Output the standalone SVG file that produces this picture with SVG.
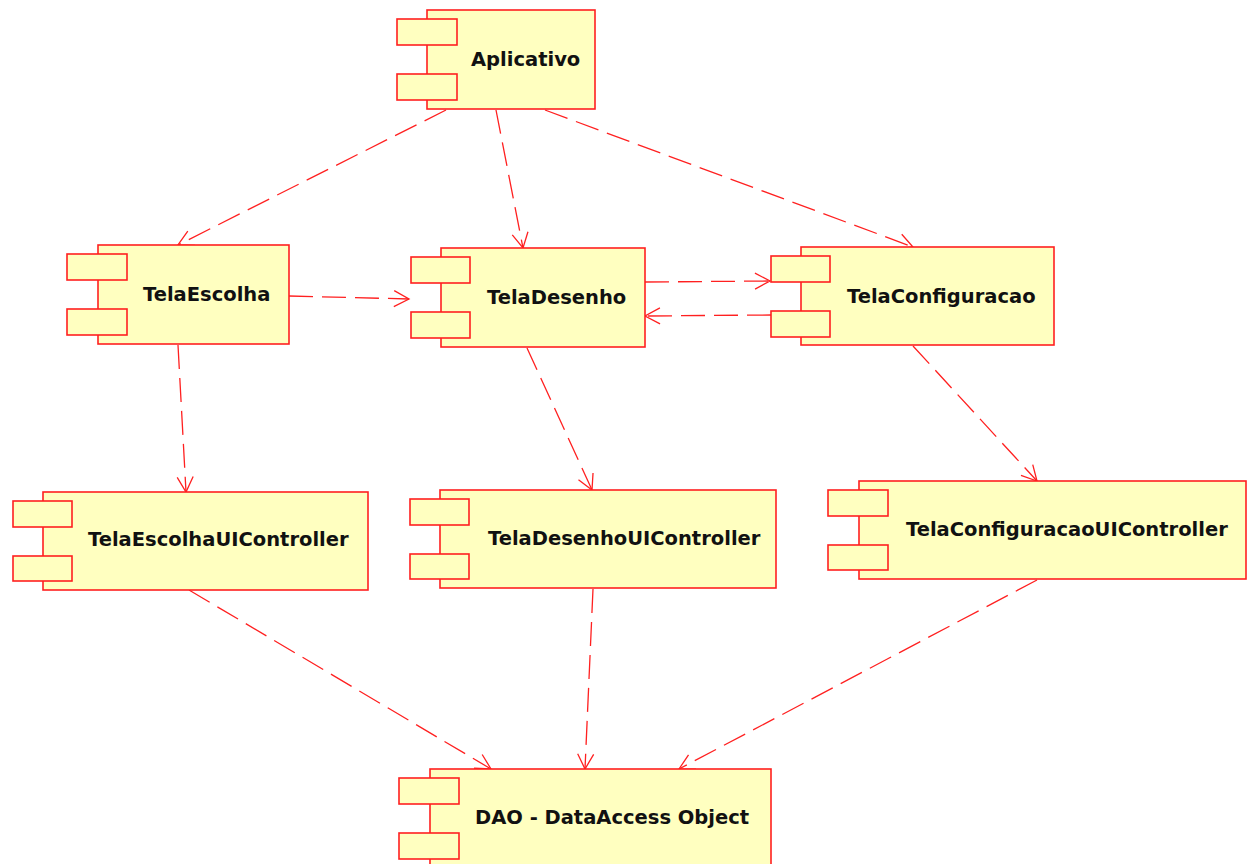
<svg xmlns="http://www.w3.org/2000/svg" width="1249" height="864" viewBox="0 0 1249 864">
<defs>
<style>
.b{fill:#ffffc0;stroke:#ff2020;stroke-width:1.6}
.t{font-family:"DejaVu Sans",sans-serif;font-weight:bold;font-size:19.5px;fill:#111}
.e{fill:none;stroke:#ff2020;stroke-width:1.3;stroke-dasharray:24 9}
</style>
<marker id="a" markerUnits="userSpaceOnUse" markerWidth="30" markerHeight="30" viewBox="-20 -15 30 30" refX="0" refY="0" orient="auto">
<path d="M-15,-8 L0,0 L-15,8" fill="none" stroke="#ff2020" stroke-width="1.3"/>
</marker>
</defs>
<rect width="1249" height="864" fill="#fff"/>
<g id="connectors">
<line class="e" x1="446" y1="110" x2="178" y2="245" marker-end="url(#a)"/>
<line class="e" x1="496" y1="110" x2="523" y2="248" marker-end="url(#a)"/>
<line class="e" x1="545" y1="110" x2="913" y2="247" marker-end="url(#a)"/>
<line class="e" x1="289" y1="296" x2="409" y2="299" marker-end="url(#a)"/>
<line class="e" x1="645" y1="282" x2="770" y2="281" marker-end="url(#a)"/>
<line class="e" x1="771" y1="315" x2="645" y2="316" marker-end="url(#a)"/>
<line class="e" x1="178" y1="345" x2="186" y2="492" marker-end="url(#a)"/>
<line class="e" x1="527" y1="348" x2="592" y2="490" marker-end="url(#a)"/>
<line class="e" x1="913" y1="346" x2="1037" y2="481" marker-end="url(#a)"/>
<line class="e" x1="189" y1="590" x2="491" y2="769" marker-end="url(#a)"/>
<line class="e" x1="593" y1="589" x2="585" y2="769" marker-end="url(#a)"/>
<line class="e" x1="1037" y1="580" x2="679" y2="769" marker-end="url(#a)"/>
</g>
<g id="Aplicativo">
<rect class="b" x="427" y="10" width="168" height="99"/>
<rect class="b" x="397" y="19" width="60" height="26"/>
<rect class="b" x="397" y="74" width="60" height="26"/>
<text class="t" x="471" y="66">Aplicativo</text>
</g>
<g id="TelaEscolha">
<rect class="b" x="98" y="245" width="191" height="99"/>
<rect class="b" x="67" y="254" width="60" height="26"/>
<rect class="b" x="67" y="309" width="60" height="26"/>
<text class="t" x="143" y="301">TelaEscolha</text>
</g>
<g id="TelaDesenho">
<rect class="b" x="441" y="248" width="204" height="99"/>
<rect class="b" x="411" y="257" width="59" height="26"/>
<rect class="b" x="411" y="312" width="59" height="26"/>
<text class="t" x="487" y="304">TelaDesenho</text>
</g>
<g id="TelaConfiguracao">
<rect class="b" x="801" y="247" width="253" height="98"/>
<rect class="b" x="771" y="256" width="59" height="26"/>
<rect class="b" x="771" y="311" width="59" height="26"/>
<text class="t" x="847" y="303">TelaConfiguracao</text>
</g>
<g id="TelaEscolhaUIController">
<rect class="b" x="43" y="492" width="325" height="98"/>
<rect class="b" x="13" y="501" width="59" height="26"/>
<rect class="b" x="13" y="556" width="59" height="25"/>
<text class="t" x="88" y="546">TelaEscolhaUIController</text>
</g>
<g id="TelaDesenhoUIController">
<rect class="b" x="440" y="490" width="336" height="98"/>
<rect class="b" x="410" y="499" width="59" height="26"/>
<rect class="b" x="410" y="554" width="59" height="25"/>
<text class="t" x="488" y="545">TelaDesenhoUIController</text>
</g>
<g id="TelaConfiguracaoUIController">
<rect class="b" x="859" y="481" width="387" height="98"/>
<rect class="b" x="828" y="490" width="60" height="26"/>
<rect class="b" x="828" y="545" width="60" height="25"/>
<text class="t" x="906" y="536">TelaConfiguracaoUIController</text>
</g>
<g id="DAO">
<rect class="b" x="430" y="769" width="341" height="100"/>
<rect class="b" x="399" y="778" width="60" height="26"/>
<rect class="b" x="399" y="833" width="60" height="26"/>
<text class="t" x="475" y="824">DAO - DataAccess Object</text>
</g>
</svg>
